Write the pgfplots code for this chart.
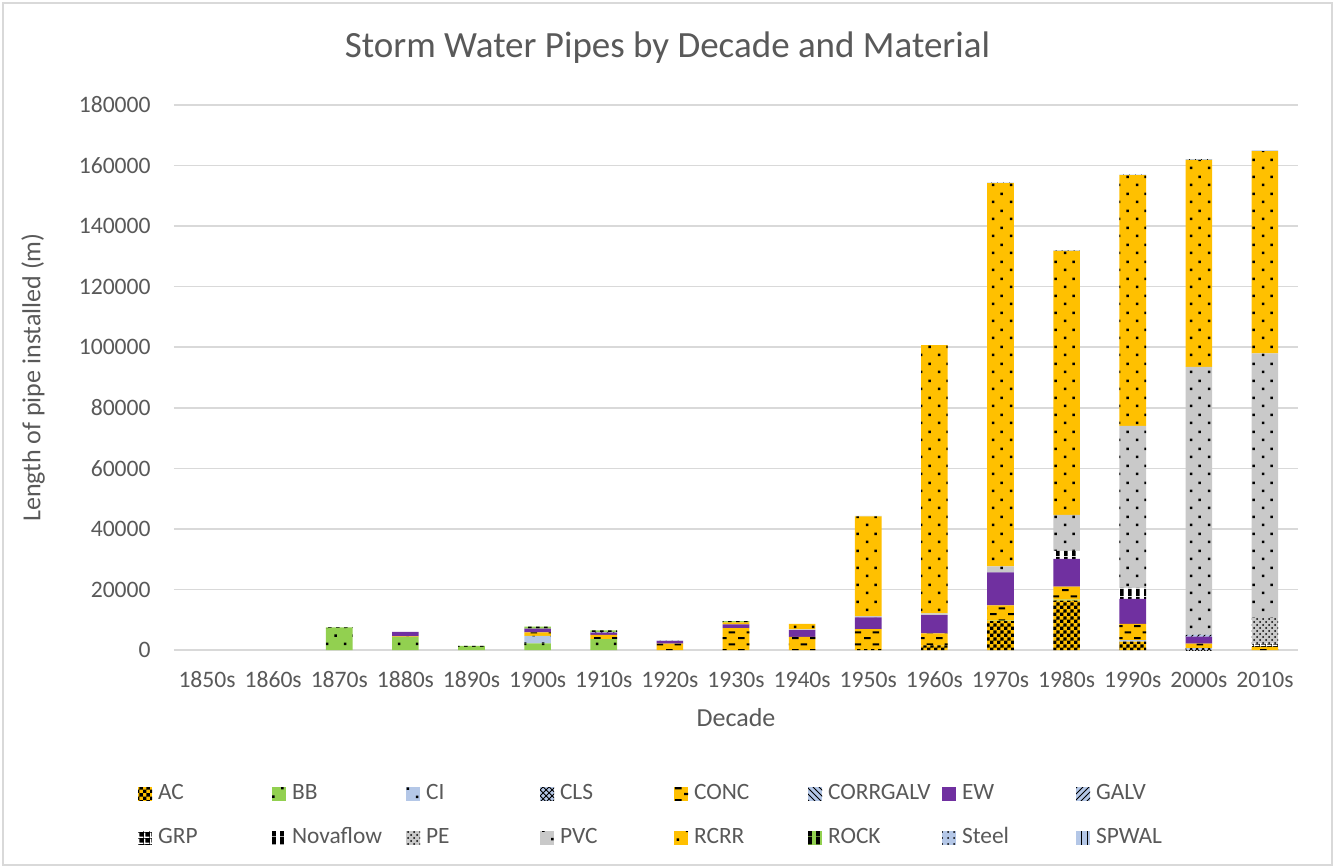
\documentclass[border=0pt]{standalone}
\usepackage{fontspec}
\setmainfont{Carlito}
\usepackage{pgfplots}
\usepackage{pgfplotstable}
\pgfplotsset{compat=1.18}
\usetikzlibrary{patterns}

\definecolor{txt}{HTML}{595959}
\definecolor{gridc}{HTML}{D9D9D9}
\definecolor{gold}{HTML}{FFC000}
\definecolor{lgreen}{HTML}{92D050}
\definecolor{lblue}{HTML}{B4C7E7}
\definecolor{purp}{HTML}{7030A0}
\definecolor{lgrey}{HTML}{C9C9C9}

% sparse patterns in the style of the Excel fills
\pgfdeclarepatternformonly{sdots}{\pgfpointorigin}{\pgfpoint{9pt}{8.5pt}}{\pgfpoint{9pt}{8.5pt}}{%
  \pgfpathrectangle{\pgfpoint{1pt}{1pt}}{\pgfpoint{1.3pt}{1.3pt}}%
  \pgfpathrectangle{\pgfpoint{5.5pt}{5.25pt}}{\pgfpoint{1.3pt}{1.3pt}}%
  \pgfusepath{fill}}
\pgfdeclarepatternformonly{sdash}{\pgfpointorigin}{\pgfpoint{9pt}{6pt}}{\pgfpoint{9pt}{6pt}}{%
  \pgfpathrectangle{\pgfpoint{0pt}{0.5pt}}{\pgfpoint{3.5pt}{1.1pt}}%
  \pgfpathrectangle{\pgfpoint{4.5pt}{3.5pt}}{\pgfpoint{3.5pt}{1.1pt}}%
  \pgfusepath{fill}}
\pgfdeclarepatternformonly{checker}{\pgfpointorigin}{\pgfpoint{3.4pt}{3.4pt}}{\pgfpoint{3.4pt}{3.4pt}}{%
  \pgfpathrectangle{\pgfpoint{0pt}{0pt}}{\pgfpoint{1.7pt}{1.7pt}}%
  \pgfpathrectangle{\pgfpoint{1.7pt}{1.7pt}}{\pgfpoint{1.7pt}{1.7pt}}%
  \pgfusepath{fill}}
\pgfdeclarepatternformonly{vbars}{\pgfpointorigin}{\pgfpoint{4pt}{4pt}}{\pgfpoint{4pt}{4pt}}{%
  \pgfpathrectangle{\pgfpoint{0pt}{0pt}}{\pgfpoint{2pt}{4pt}}%
  \pgfusepath{fill}}
\pgfdeclarepatternformonly{wgrid}{\pgfpointorigin}{\pgfpoint{3pt}{3pt}}{\pgfpoint{3pt}{3pt}}{%
  \pgfpathrectangle{\pgfpoint{0pt}{0pt}}{\pgfpoint{0.7pt}{3pt}}%
  \pgfpathrectangle{\pgfpoint{0pt}{0pt}}{\pgfpoint{3pt}{0.7pt}}%
  \pgfusepath{fill}}

\pgfplotsset{
  sq/.style={legend image code/.code={\path[##1] (0pt,-3.3pt) rectangle (7pt,3.3pt);}},
  mat/.style 2 args={fill=#1, draw=none, postaction={pattern=#2, pattern color=black}, sq},
  matw/.style 2 args={fill=#1, draw=none, postaction={pattern=#2, pattern color=white}, sq},
  flat/.style={fill=#1, draw=none, sq},
}

% decade index, metres installed per material
\pgfplotstableread{
x  AC    BB   CI   CLS CONC CORRGALV EW    GALV GRP  Nova PE   PVC   RCRR   ROCK Steel SPWAL
0  0     0    0    0   0    0        0     0    0    0    0    0     0      0    0     0
1  0     0    0    0   0    0        0     0    0    0    0    0     0      0    0     0
2  0     7200 0    0   0    0        0     0    0    0    0    0     0      300  0     0
3  0     4300 0    0   200  0        1500  0    0    0    0    0     0      0    0     0
4  0     1000 0    0   0    0        0     0    0    0    0    0     0      400  0     0
5  0     2200 2500 0   1100 0        1300  0    0    0    0    0     0      600  0     0
6  0     3600 0    0   1400 0        700   200  0    0    0    0     0      600  0     0
7  0     0    0    0   2100 0        900   0    0    0    0    0     0      0    100   0
8  0     0    0    0   7200 0        1300  0    0    0    0    0     600    400  0     0
9  0     0    0    0   4300 0        2300  0    0    0    0    200   1800   0    0     0
10 300   0    0    0   6600 0        3900  0    0    0    0    400   32900  0    200   0
11 1500  0    0    0   4000 0        6000  0    0    0    0    600   88600  0    0     0
12 9500  200  0    0   5000 0        10900 0    0    0    0    2000  126600 0    0     200
13 16300 300  0    0   4300 0        9200  0    0    2600 0    11900 87200  0    200   0
14 2800  0    500  0   5300 0        8300  0    0    3600 0    53500 82800  0    0     200
15 0     0    0    500 1600 0        2300  600  0    0    0    88500 68400  0    0     200
16 0     0    0    0   1000 0        0     0    1000 0    8600 87400 66800  0    200   0
}\pipes

\newcommand{\lab}[1]{\makebox[57pt][l]{#1}}

\begin{document}
\begin{tikzpicture}
\fill[white] (-87pt,-109pt) rectangle (580.5pt,325pt);
\path[use as bounding box] (-87pt,-109pt) rectangle (580.5pt,325pt);
\draw[gridc, line width=0.75pt] (-85.5pt,-107.5pt) rectangle (579pt,323.5pt);
\begin{axis}[
  at={(0,0)}, anchor=south west,
  scale only axis, width=562pt, height=272.5pt,
  ybar stacked, bar width=13.3pt,
  xmin=-0.5, xmax=16.5, ymin=0, ymax=180000,
  xtick={0,...,16},
  xticklabels={1850s,1860s,1870s,1880s,1890s,1900s,1910s,1920s,1930s,1940s,1950s,1960s,1970s,1980s,1990s,2000s,2010s},
  ytick={0,20000,...,180000},
  scaled y ticks=false,
  yticklabel={\pgfmathprintnumber[fixed,precision=0,1000 sep={},assume math mode=true]{\tick}},
  yticklabel style={anchor=east, inner sep=0pt, xshift=-11.5pt},
  xticklabel style={anchor=center, inner sep=0pt, yshift=-15pt},
  ticklabel style={font=\fontsize{11.8}{14}\selectfont, text=txt},
  major tick length=0pt,
  axis line style={draw=none},
  ymajorgrids, grid style={draw=gridc, line width=0.75pt},
  title={Storm Water Pipes by Decade and Material},
  title style={at={(axis description cs:0.439,1.0826)}, anchor=center,
    font=\fontsize{18.5}{22}\selectfont, text=txt},
  xlabel={Decade},
  xlabel style={at={(axis description cs:0.5,0)}, yshift=-34pt, anchor=center,
    font=\fontsize{13}{15}\selectfont, text=txt},
  ylabel={Length of pipe installed (m)},
  ylabel style={at={(axis description cs:-0.1254,0.5)}, anchor=center,
    font=\fontsize{13}{15}\selectfont, text=txt},
  legend columns=8,
  legend cell align=left,
  legend style={at={(axis description cs:-0.032,-0.244)}, anchor=north west,
    draw=none, fill=none, inner sep=0pt, outer sep=0pt,
    font=\fontsize{11.7}{14}\selectfont, text=txt,
    nodes={inner sep=0pt, text height=8.5pt, text depth=2.5pt},
    row sep=11pt,
    /tikz/every odd column/.append style={column sep=3pt}},
]
\addplot+[mat={gold}{checker}]   table[x=x, y=AC]       {\pipes}; \addlegendentry{\lab{AC}}
\addplot+[mat={lgreen}{sdots}]   table[x=x, y=BB]       {\pipes}; \addlegendentry{\lab{BB}}
\addplot+[mat={lblue}{sdots}]    table[x=x, y=CI]       {\pipes}; \addlegendentry{\lab{CI}}
\addplot+[mat={lblue}{crosshatch}] table[x=x, y=CLS]    {\pipes}; \addlegendentry{\lab{CLS}}
\addplot+[mat={gold}{sdash}]     table[x=x, y=CONC]     {\pipes}; \addlegendentry{\lab{CONC}}
\addplot+[mat={lblue}{north west lines}] table[x=x, y=CORRGALV] {\pipes}; \addlegendentry{\lab{CORRGALV}}
\addplot+[flat={purp}]           table[x=x, y=EW]       {\pipes}; \addlegendentry{\lab{EW}}
\addplot+[mat={lblue}{north east lines}] table[x=x, y=GALV] {\pipes}; \addlegendentry{\lab{GALV}}
\addplot+[matw={black}{wgrid}]   table[x=x, y=GRP]      {\pipes}; \addlegendentry{\lab{GRP}}
\addplot+[mat={white}{vbars}]    table[x=x, y=Nova]     {\pipes}; \addlegendentry{\lab{Novaflow}}
\addplot+[mat={lgrey}{crosshatch dots}] table[x=x, y=PE] {\pipes}; \addlegendentry{\lab{PE}}
\addplot+[mat={lgrey}{sdots}]    table[x=x, y=PVC]      {\pipes}; \addlegendentry{\lab{PVC}}
\addplot+[mat={gold}{sdots}]     table[x=x, y=RCRR]     {\pipes}; \addlegendentry{\lab{RCRR}}
\addplot+[mat={lgreen}{vbars}]   table[x=x, y=ROCK]     {\pipes}; \addlegendentry{\lab{ROCK}}
\addplot+[mat={lblue}{dots}]     table[x=x, y=Steel]    {\pipes}; \addlegendentry{\lab{Steel}}
\addplot+[mat={lblue}{vertical lines}] table[x=x, y=SPWAL] {\pipes}; \addlegendentry{\lab{SPWAL}}
\end{axis}
\end{tikzpicture}
\end{document}
